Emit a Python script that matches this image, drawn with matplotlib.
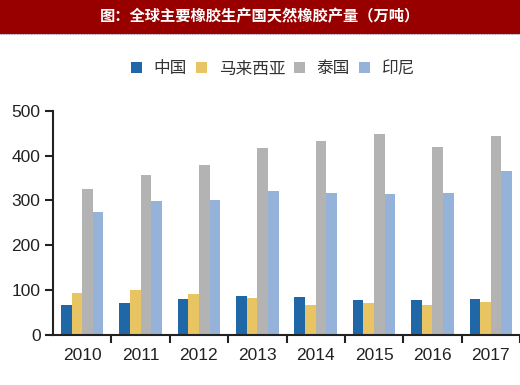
import numpy as np
import matplotlib.pyplot as plt
from matplotlib.patches import Rectangle
from matplotlib.lines import Line2D

plt.rcParams['font.family'] = ['Liberation Sans', 'Noto Sans CJK SC', 'DejaVu Sans']

# data (万吨)
years = ['2010', '2011', '2012', '2013', '2014', '2015', '2016', '2017']
series_names = ['中国', '马来西亚', '泰国', '印尼']
china = [67, 71, 80, 87, 84, 79, 77, 80]
malaysia = [93, 100, 91, 83, 66, 71, 66, 73]
thailand = [325, 357, 379, 416, 433, 449, 419, 443]
indonesia = [275, 299, 301, 322, 316, 314, 316, 365]
colors = ['#1f67a6', '#e8c463', '#b3b3b3', '#95b3d9']

fig = plt.figure(figsize=(5.2, 3.85), dpi=100)

# title band
fig.patches.append(Rectangle((0, 1 - 33 / 385), 1, 33 / 385, transform=fig.transFigure,
                             color='#980000', zorder=0))
fig.lines.append(Line2D([0, 1], [1 - 34 / 385] * 2, transform=fig.transFigure,
                        color='#8fa8cc', lw=0.8, ls=(0, (1, 1.5))))
fig.text(0.5, 1 - 16 / 385, '图：全球主要橡胶生产国天然橡胶产量（万吨）', ha='center', va='center',
         color='white', fontsize=11, fontweight='bold', family=['Noto Sans CJK SC', 'DejaVu Sans'])

ax = fig.add_axes([53 / 520, 1 - 335 / 385, 1 - 53 / 520, (335 - 110.7) / 385])
x = np.arange(len(years))
w = 0.182
data = [china, malaysia, thailand, indonesia]
for i, (vals, c, name) in enumerate(zip(data, colors, series_names)):
    ax.bar(x + (i - 1.5) * w, vals, width=w, color=c, label=name, zorder=2)

ax.set_xlim(-0.5, len(years) - 0.5)
ax.set_ylim(0, 500)
ax.set_yticks([0, 100, 200, 300, 400, 500])
ax.set_xticks(x)
ax.set_xticklabels(years)
ax.set_xticks(np.arange(0.5, len(years), 1), minor=True)
ax.tick_params(axis='x', which='major', length=0, pad=9, labelsize=12.5, labelcolor='#222222')
ax.tick_params(axis='x', which='minor', length=6, width=1.5, color='#222222', direction='out')
ax.tick_params(axis='y', length=6, width=1.5, color='#222222', labelsize=12.5,
               labelcolor='#222222', pad=3)
for s in ['top', 'right']:
    ax.spines[s].set_visible(False)
for s in ['left', 'bottom']:
    ax.spines[s].set_linewidth(1.5)
    ax.spines[s].set_color('#222222')

leg = fig.legend(loc='center', bbox_to_anchor=(0.525, 1 - 69 / 385), ncol=4, frameon=False,
                 handlelength=0.65, handleheight=0.65, handletextpad=0.7, columnspacing=0.55,
                 prop={'family': ['Noto Sans CJK SC', 'DejaVu Sans'], 'size': 12})
for t in leg.get_texts():
    t.set_color('#333333')

fig.savefig('out.png', dpi=100)
